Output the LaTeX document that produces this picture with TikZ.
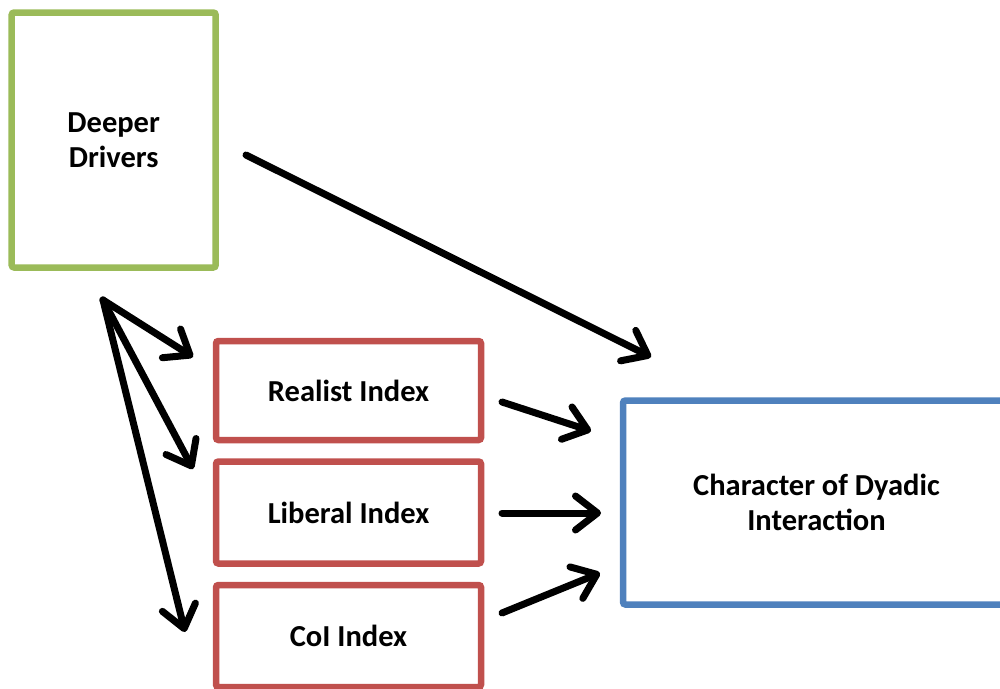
\documentclass[tikz,border=0pt]{standalone}
\usepackage{fontspec}
\setmainfont{Carlito}
\usetikzlibrary{arrows.meta,calc}
\definecolor{ddgreen}{RGB}{155,187,89}
\definecolor{idxred}{RGB}{192,80,77}
\definecolor{outblue}{RGB}{79,129,189}
\begin{document}
\begin{tikzpicture}[x=1pt,y=-1pt,
  box/.style={draw, line width=6.5pt, rounded corners=2.5pt, fill=white,
    inner sep=0pt, align=center,
    font=\fontsize{30.5}{35}\selectfont\bfseries},
  arr/.style={line width=7pt, line cap=round,
    -{Straight Barb[length=22pt,width=34pt,line cap=round,line join=round]}}]
  \useasboundingbox (0,0) rectangle (1000,688);
  \clip (0,0) rectangle (1000,688);

  % boxes
  \node[box, draw=ddgreen, minimum width=204pt, minimum height=255pt] (dd) at (113.7,140) {Deeper\\Drivers};
  \node[box, draw=idxred, minimum width=265pt, minimum height=99pt] (real) at (348.5,390.5) {Realist Index};
  \node[box, draw=idxred, minimum width=265pt, minimum height=102pt] (lib) at (348.5,512.5) {Liberal Index};
  \node[box, draw=idxred, minimum width=265pt, minimum height=102pt] (coi) at (348.5,636) {CoI Index};
  \node[box, draw=outblue, minimum width=387pt, minimum height=204pt] (cdi) at (816.5,502.5) {Character of Dyadic\\Interaction};

  % arrow end points
  \coordinate (fan) at (103,300);
  \coordinate (ddout) at (246,155);
  \coordinate (cditop) at (651,357);
  \coordinate (realin) at (193,357);
  \coordinate (libin) at (193,469);
  \coordinate (coiin) at (185,632);
  \coordinate (realout) at (502,402);
  \coordinate (libout) at (502,513);
  \coordinate (coiout) at (502,613);
  \coordinate (cdiin1) at (591,431);
  \coordinate (cdiin2) at (601,513);
  \coordinate (cdiin3) at (600,573);

  % connectors
  \draw[arr] (ddout) -- (cditop);
  \draw[arr] (fan) -- (realin);
  \draw[arr] (fan) -- (libin);
  \draw[arr] (fan) -- (coiin);
  \draw[arr] (realout) -- (cdiin1);
  \draw[arr] (libout) -- (cdiin2);
  \draw[arr] (coiout) -- (cdiin3);
\end{tikzpicture}
\end{document}
